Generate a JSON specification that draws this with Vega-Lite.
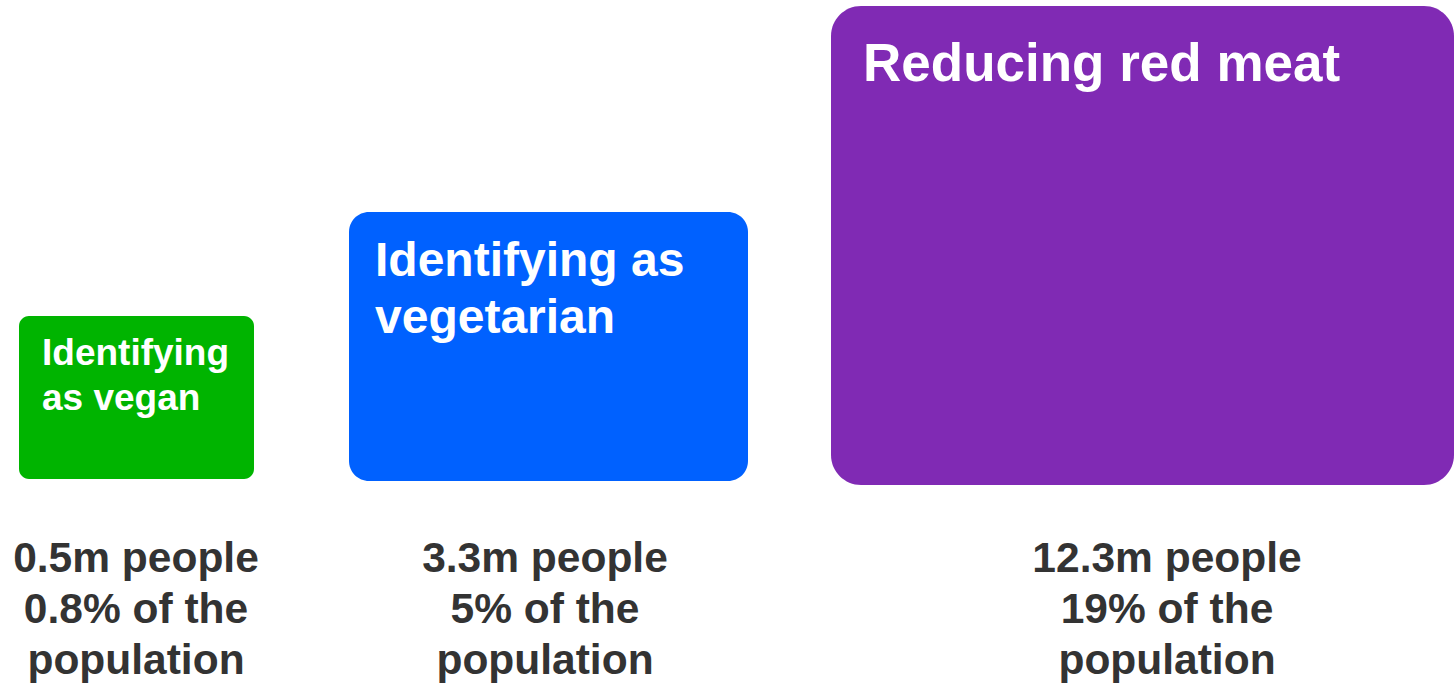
{
  "$schema": "https://vega.github.io/schema/vega-lite/v6.json",
  "autosize": {"type": "fit", "contains": "padding"},
  "width": 1455,
  "height": 683,
  "padding": 0,
  "background": "white",
  "config": {"view": {"stroke": null}},
  "data": {
    "values": [
      {"group": "vegan", "label": "Identifying\nas vegan", "caption": "0.5m people\n0.8% of the\npopulation", "x0": 19, "x1": 254, "y0": 316, "y1": 479, "lx": 42, "ly": 365, "cx": 136, "cy": 572},
      {"group": "vegetarian", "label": "Identifying as\nvegetarian", "caption": "3.3m people\n5% of the\npopulation", "x0": 349, "x1": 748, "y0": 212, "y1": 481, "lx": 375, "ly": 276, "cx": 545, "cy": 572},
      {"group": "reducing", "label": "Reducing red meat", "caption": "12.3m people\n19% of the\npopulation", "x0": 831, "x1": 1454, "y0": 6, "y1": 485, "lx": 863, "ly": 81, "cx": 1167, "cy": 572}
    ]
  },
  "layer": [
    {
      "transform": [{"filter": "datum.group === 'vegan'"}],
      "mark": {"type": "rect", "cornerRadius": 10, "color": "#00B400"},
      "encoding": {
        "x": {"field": "x0", "type": "quantitative", "scale": {"domain": [0, 1455], "nice": false, "zero": false}, "axis": null},
        "x2": {"field": "x1"},
        "y": {"field": "y0", "type": "quantitative", "scale": {"domain": [0, 683], "reverse": true, "nice": false, "zero": false}, "axis": null},
        "y2": {"field": "y1"}
      }
    },
    {
      "transform": [{"filter": "datum.group === 'vegetarian'"}],
      "mark": {"type": "rect", "cornerRadius": 20, "color": "#0061FF"},
      "encoding": {
        "x": {"field": "x0", "type": "quantitative"},
        "x2": {"field": "x1"},
        "y": {"field": "y0", "type": "quantitative"},
        "y2": {"field": "y1"}
      }
    },
    {
      "transform": [{"filter": "datum.group === 'reducing'"}],
      "mark": {"type": "rect", "cornerRadius": 30, "color": "#802AB4"},
      "encoding": {
        "x": {"field": "x0", "type": "quantitative"},
        "x2": {"field": "x1"},
        "y": {"field": "y0", "type": "quantitative"},
        "y2": {"field": "y1"}
      }
    },
    {
      "transform": [{"filter": "datum.group === 'vegan'"}],
      "mark": {"type": "text", "align": "left", "baseline": "alphabetic", "font": "Liberation Sans", "fontWeight": "bold", "fontSize": 37, "lineHeight": 45, "color": "white", "lineBreak": "\n"},
      "encoding": {
        "x": {"field": "lx", "type": "quantitative"},
        "y": {"field": "ly", "type": "quantitative"},
        "text": {"field": "label"}
      }
    },
    {
      "transform": [{"filter": "datum.group === 'vegetarian'"}],
      "mark": {"type": "text", "align": "left", "baseline": "alphabetic", "font": "Liberation Sans", "fontWeight": "bold", "fontSize": 48, "lineHeight": 57, "color": "white", "lineBreak": "\n"},
      "encoding": {
        "x": {"field": "lx", "type": "quantitative"},
        "y": {"field": "ly", "type": "quantitative"},
        "text": {"field": "label"}
      }
    },
    {
      "transform": [{"filter": "datum.group === 'reducing'"}],
      "mark": {"type": "text", "align": "left", "baseline": "alphabetic", "font": "Liberation Sans", "fontWeight": "bold", "fontSize": 53, "color": "white"},
      "encoding": {
        "x": {"field": "lx", "type": "quantitative"},
        "y": {"field": "ly", "type": "quantitative"},
        "text": {"field": "label"}
      }
    },
    {
      "mark": {"type": "text", "align": "center", "baseline": "alphabetic", "font": "Liberation Sans", "fontWeight": "bold", "fontSize": 42.5, "lineHeight": 51, "color": "#333333", "lineBreak": "\n"},
      "encoding": {
        "x": {"field": "cx", "type": "quantitative"},
        "y": {"field": "cy", "type": "quantitative"},
        "text": {"field": "caption"}
      }
    }
  ]
}
